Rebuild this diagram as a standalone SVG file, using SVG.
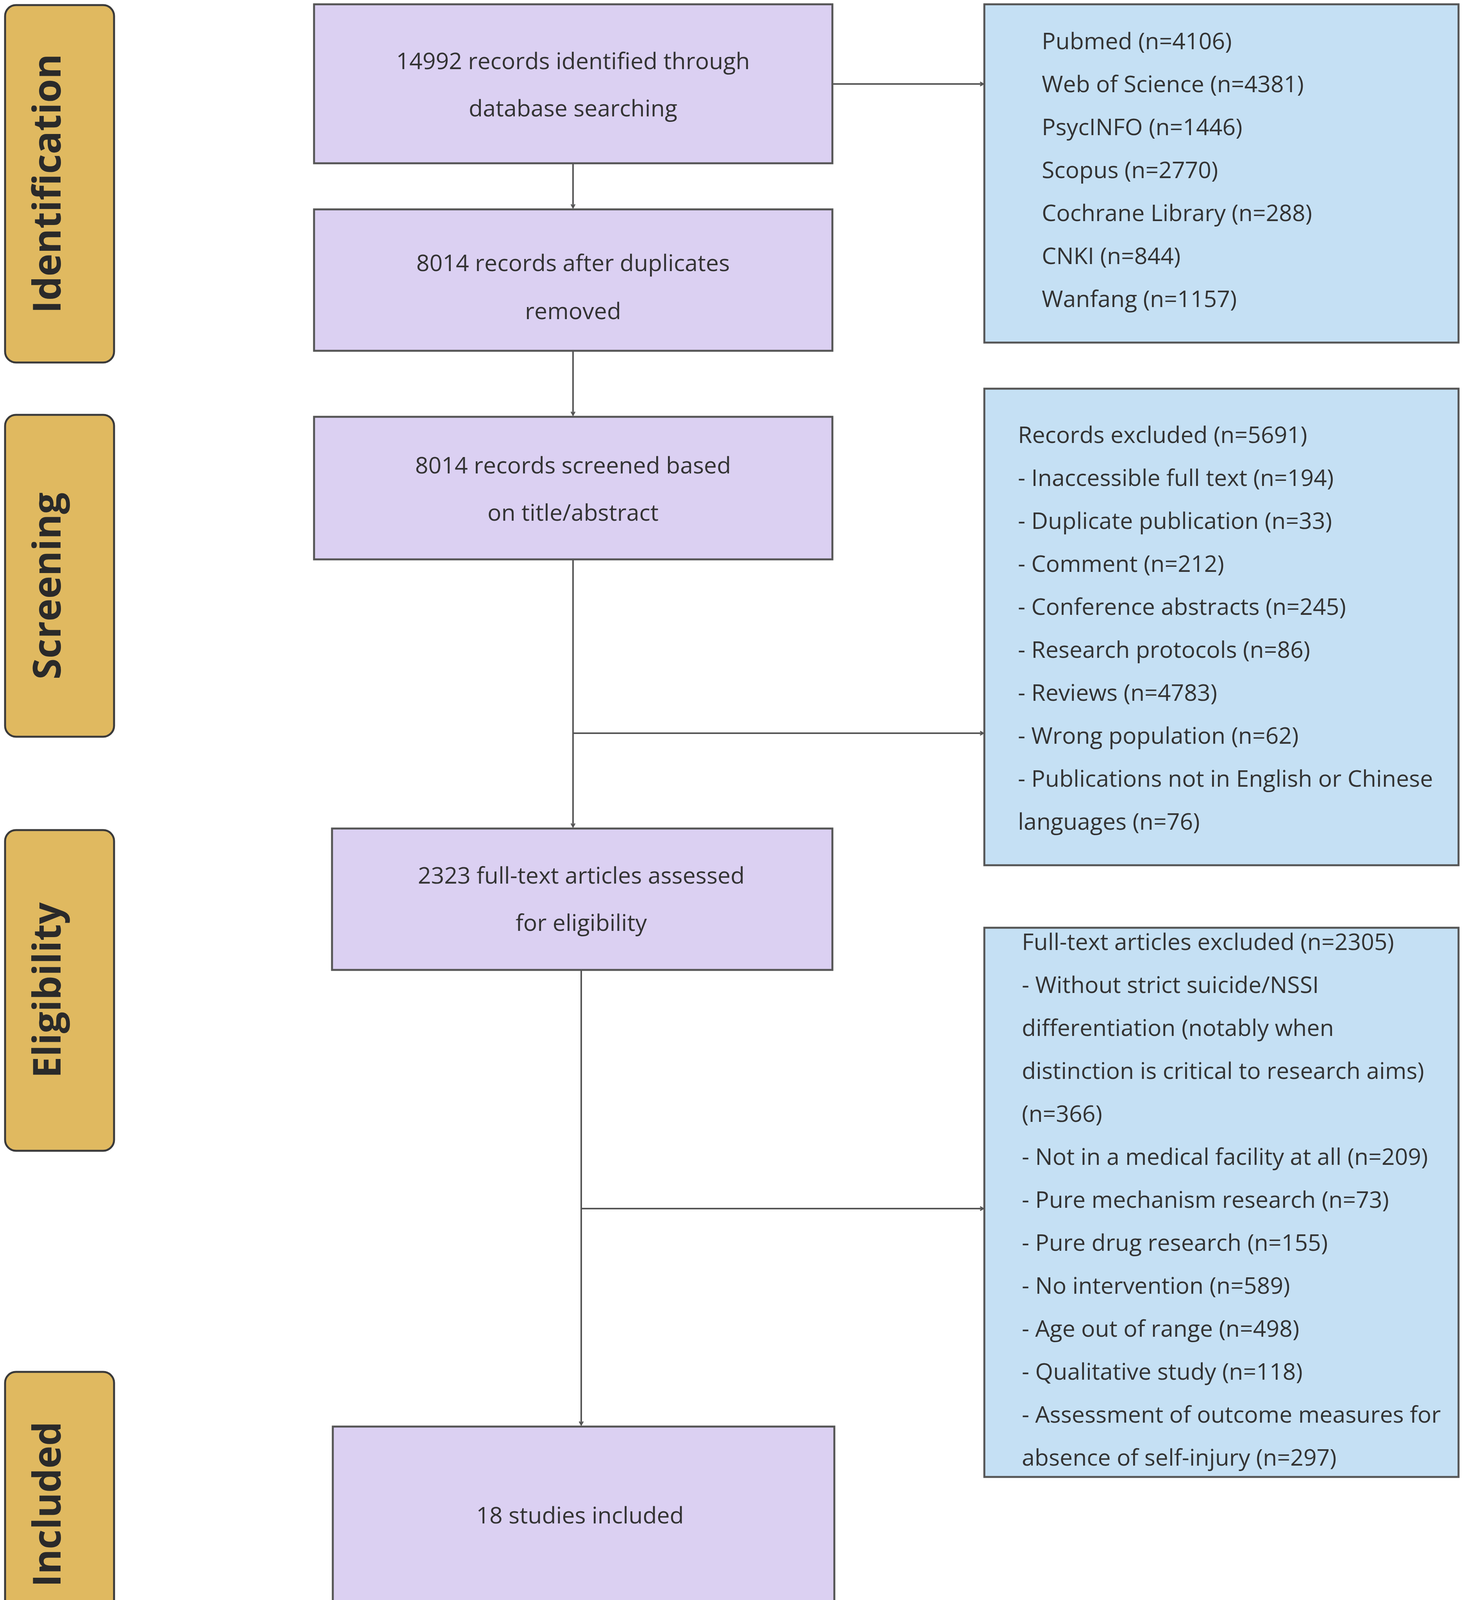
<svg xmlns="http://www.w3.org/2000/svg" width="3748" height="4208" viewBox="0 0 3748 4208">
<style>
.lab{fill:#e0b960;stroke:#3a3a3a;stroke-width:5}
.lt{font-family:"Open Sans","DejaVu Sans",sans-serif;font-weight:bold;font-size:98px;fill:#2a2a2a;text-anchor:middle}
.p{fill:#dbd0f2;stroke:#555;stroke-width:5}
.b{fill:#c5e0f4;stroke:#555;stroke-width:5}
.t{font-family:"Open Sans","Noto Sans",sans-serif;font-size:59px;fill:#333}
.c{text-anchor:middle}
.ln{stroke:#555;stroke-width:4;fill:none}
</style>
<defs><marker id="a" markerWidth="12" markerHeight="12" refX="10" refY="6" orient="auto" markerUnits="userSpaceOnUse"><path d="M1,1 L10,6 L1,11" fill="none" stroke="#555" stroke-width="3"/></marker></defs>
<g id="lab-identification"><rect class="lab" x="13" y="13" width="279" height="915" rx="28"/><text class="lt" transform="translate(155,470) rotate(-90)">Identification</text></g>
<g id="lab-screening"><rect class="lab" x="13" y="1062" width="279" height="824" rx="28"/><text class="lt" transform="translate(155,1500) rotate(-90)">Screening</text></g>
<g id="lab-eligibility"><rect class="lab" x="13" y="2125" width="279" height="821" rx="28"/><text class="lt" transform="translate(155,2535) rotate(-90)">Eligibility</text></g>
<g id="lab-included"><rect class="lab" x="13" y="3512" width="279" height="678" rx="28"/><text class="lt" transform="translate(155,3851) rotate(-90)">Included</text></g>
<g id="n1"><rect class="p" x="804" y="11" width="1327" height="407"/><text class="t c" x="1467" y="177">14992 records identified through</text><text class="t c" x="1467" y="298">database searching</text></g>
<g id="n2"><rect class="p" x="804" y="536" width="1327" height="362"/><text class="t c" x="1467" y="694">8014 records after duplicates</text><text class="t c" x="1467" y="817">removed</text></g>
<g id="n3"><rect class="p" x="804" y="1067" width="1327" height="365"/><text class="t c" x="1467" y="1212">8014 records screened based</text><text class="t c" x="1467" y="1333">on title/abstract</text></g>
<g id="n4"><rect class="p" x="850" y="2121" width="1281" height="362"/><text class="t c" x="1488" y="2262">2323 full-text articles assessed</text><text class="t c" x="1488" y="2383">for eligibility</text></g>
<g id="n5"><rect class="p" x="852" y="3652" width="1284" height="453"/><text class="t c" x="1485" y="3900">18 studies included</text></g>
<g id="r1"><rect class="b" x="2520" y="11" width="1214" height="866"/>
<text class="t" x="2667" y="126">Pubmed (n=4106)</text><text class="t" x="2667" y="236">Web of Science (n=4381)</text><text class="t" x="2667" y="346">PsycINFO (n=1446)</text><text class="t" x="2667" y="456">Scopus (n=2770)</text><text class="t" x="2667" y="566">Cochrane Library (n=288)</text><text class="t" x="2667" y="676">CNKI (n=844)</text><text class="t" x="2667" y="786">Wanfang (n=1157)</text></g>
<g id="r2"><rect class="b" x="2520" y="995" width="1214" height="1220"/>
<text class="t" x="2606" y="1134">Records excluded (n=5691)</text><text class="t" x="2606" y="1244">- Inaccessible full text (n=194)</text><text class="t" x="2606" y="1354">- Duplicate publication (n=33)</text><text class="t" x="2606" y="1464">- Comment (n=212)</text><text class="t" x="2606" y="1574">- Conference abstracts (n=245)</text><text class="t" x="2606" y="1684">- Research protocols (n=86)</text><text class="t" x="2606" y="1794">- Reviews (n=4783)</text><text class="t" x="2606" y="1904">- Wrong population (n=62)</text><text class="t" x="2606" y="2014">- Publications not in English or Chinese</text><text class="t" x="2606" y="2124">languages (n=76)</text></g>
<g id="r3"><rect class="b" x="2520" y="2375" width="1214" height="1406"/>
<text class="t" x="2616" y="2432">Full-text articles excluded (n=2305)</text><text class="t" x="2616" y="2542">- Without strict suicide/NSSI</text><text class="t" x="2616" y="2652">differentiation (notably when</text><text class="t" x="2616" y="2762">distinction is critical to research aims)</text><text class="t" x="2616" y="2872">(n=366)</text><text class="t" x="2616" y="2982">- Not in a medical facility at all (n=209)</text><text class="t" x="2616" y="3092">- Pure mechanism research (n=73)</text><text class="t" x="2616" y="3202">- Pure drug research (n=155)</text><text class="t" x="2616" y="3312">- No intervention  (n=589)</text><text class="t" x="2616" y="3422">- Age out of range (n=498)</text><text class="t" x="2616" y="3532">- Qualitative study  (n=118)</text><text class="t" x="2616" y="3642">- Assessment of outcome measures for</text><text class="t" x="2616" y="3752">absence of self-injury (n=297)</text></g>
<g id="connectors">
<path class="ln" d="M2131,215 H2518" marker-end="url(#a)"/>
<path class="ln" d="M1467,418 V532" marker-end="url(#a)"/>
<path class="ln" d="M1467,898 V1063" marker-end="url(#a)"/>
<path class="ln" d="M1467,1432 V2117" marker-end="url(#a)"/>
<path class="ln" d="M1467,1877 H2518" marker-end="url(#a)"/>
<path class="ln" d="M1488,2483 V3648" marker-end="url(#a)"/>
<path class="ln" d="M1488,3094 H2518" marker-end="url(#a)"/>
</g>
</svg>
